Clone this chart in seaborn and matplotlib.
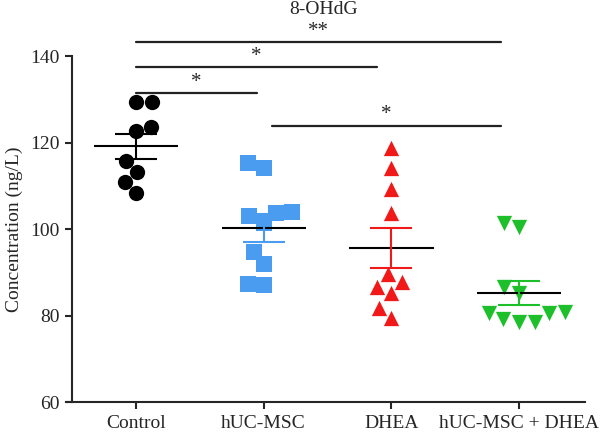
import numpy as np
import pandas as pd
import matplotlib
matplotlib.use("Agg")
import matplotlib.pyplot as plt
import seaborn as sns

# valores (ng/L)
groups = ["Control", "hUC-MSC", "DHEA", "hUC-MSC + DHEA"]
control = [129.3, 129.3, 123.7, 122.6, 115.8, 113.3, 111.0, 108.4]
huc_msc = [115.3, 114.2, 103.7, 104.0, 103.0, 101.4, 94.7, 91.9, 87.0, 87.3]
dhea = [118.8, 114.2, 109.3, 103.7, 89.5, 87.7, 86.5, 85.1, 81.8, 79.5]
huc_dhea = [100.5, 101.4, 86.5, 85.3, 80.9, 79.3, 78.6, 78.6, 80.5, 80.7]

colors = ["#000000", "#4a9cf0", "#f01818", "#1dbf2a"]
markers = ["o", "s", "^", "v"]

# comparaciones: (inicio, fin, altura, etiqueta)
comparisons = [(0.0, 2.86, 143.3, "**"),
               (0.0, 1.89, 137.5, "*"),
               (0.0, 0.95, 131.5, "*"),
               (1.065, 2.86, 123.9, "*")]

values = [control, huc_msc, dhea, huc_dhea]
df = pd.DataFrame({
    "group": np.repeat(groups, [len(v) for v in values]),
    "value": np.concatenate(values),
})

sns.set_style("ticks")
plt.rcParams["font.family"] = ["Liberation Serif", "DejaVu Serif"]

fig = plt.figure(figsize=(6.0, 4.34), dpi=100)
ax = fig.add_axes([0.11, 0.0737, 0.865, 0.797])

for g, c, m in zip(groups, colors, markers):
    sub = df[df["group"] == g]
    sns.swarmplot(data=sub, x="group", y="value", order=groups, color=c,
                  marker=m, size=11, linewidth=0, ax=ax, zorder=2)

# media +/- SEM
for i, (g, c) in enumerate(zip(groups, colors)):
    v = np.array(df.loc[df["group"] == g, "value"])
    mean = v.mean()
    sem = v.std(ddof=1) / np.sqrt(len(v))
    ax.hlines(mean, i - 0.33, i + 0.33, color="black", lw=1.5, zorder=4)
    ax.vlines(i, mean - sem, mean + sem, color=c, lw=1.5, zorder=4)
    ax.hlines([mean - sem, mean + sem], i - 0.165, i + 0.165, color=c, lw=1.5, zorder=4)

# lineas de significancia
for x0, x1, y, lab in comparisons:
    ax.plot([x0, x1], [y, y], color="#222222", lw=1.6, clip_on=False)
    ax.text((x0 + x1) / 2, y + 0.3, lab, ha="center", va="bottom", fontsize=15)

ax.set_xlim(-0.548, 3.516)
ax.set_ylim(60, 140)
ax.set_yticks([60, 80, 100, 120, 140])
ax.set_xlabel("")
ax.set_ylabel("Concentration (ng/L)", fontsize=14, labelpad=5)
ax.tick_params(axis="both", labelsize=14, length=5, width=1.5, direction="out", pad=4)

sns.despine(ax=ax)
ax.spines["left"].set_position(("data", -0.5))
ax.spines["left"].set_linewidth(1.5)
ax.spines["bottom"].set_linewidth(1.5)

fig.text(0.54, 1 - 10 / 434, "8-OHdG", ha="center", va="center", fontsize=14)

fig.savefig("out.png", dpi=100)
